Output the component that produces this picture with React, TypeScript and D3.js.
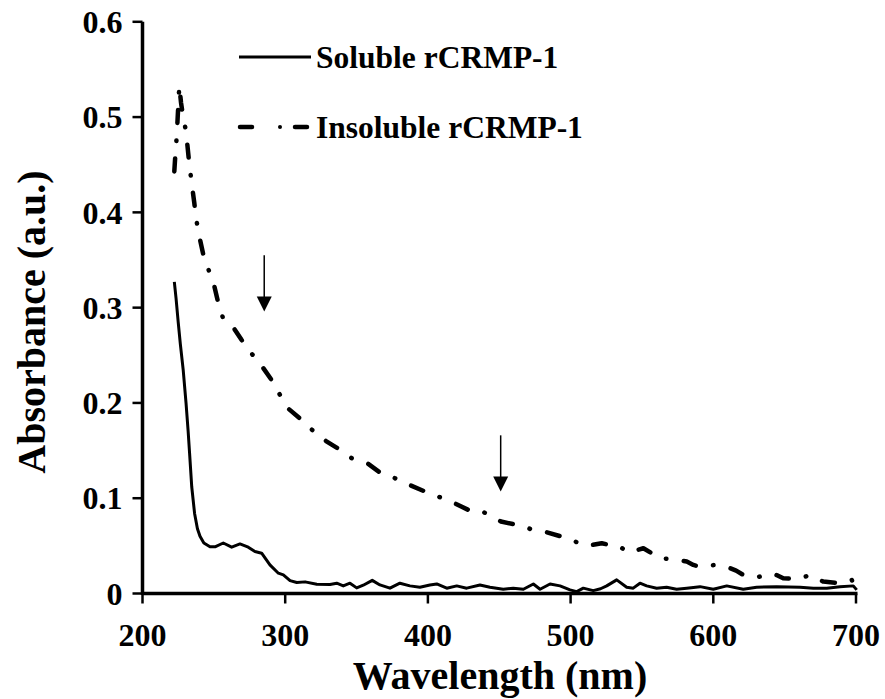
import React from "react";
import * as d3 from "d3";

const solubleNm = [222.3,223.5,225,226.5,228.5,230.5,232,233,234.5,236.5,238.5,240.3,243,247.3,250.8,256.6,262.5,268.3,274.1,278.8,283.5,289.3,295.2,298.7,303.4,308.1,313.9,322.1,331.4,336.1,340.7,345.4,350.1,354.7,361,366.4,373.4,380.4,387.4,394.4,401.4,406.2,413.2,420.2,427.2,436.5,443.5,452.8,459.8,466.9,473.9,478.6,485.6,492.6,499.6,504.3,508.9,515.9,521,525.3,532.3,539.3,543.9,548.6,553.3,560.3,567.3,574.3,581.4,590.7,600,609.4,621,630.4,644.4,660.8,670.1,679.5,688.8,698.1,700.5];
const solubleAbs = [0.327,0.31,0.285,0.262,0.235,0.2,0.17,0.147,0.112,0.084,0.068,0.06,0.053,0.049,0.049,0.053,0.0486,0.052,0.0486,0.044,0.0423,0.03,0.0213,0.0195,0.0135,0.0115,0.0122,0.0097,0.0094,0.0108,0.008,0.0108,0.0059,0.0087,0.0138,0.009,0.0056,0.0108,0.008,0.0066,0.009,0.01,0.0056,0.008,0.0056,0.009,0.0066,0.0045,0.0056,0.0045,0.01,0.0045,0.01,0.008,0.0038,0.002,0.0056,0.003,0.005,0.008,0.0143,0.0066,0.0056,0.0108,0.008,0.0056,0.0066,0.0045,0.0056,0.0072,0.0045,0.008,0.0045,0.0066,0.0072,0.0066,0.0056,0.0056,0.0072,0.008,0.0038];

const insolubleNm = [222.3,223,224,225,225.8,227,228.5,230.5,232.5,234.5,236.3,237.5,239.8,242.4,246,250.1,253.1,256.2,262.9,269.5,275.8,283.5,290.5,295.7,302.2,311.6,318.6,328.6,338.4,346.6,358.2,366.4,372,376.9,387,398,408.5,419.7,430.7,436,441.2,451.2,462.2,467,472.7,483.2,493.8,498,503.1,511.7,521.8,527,532.3,541.1,551,556,561.5,571.5,581.4,586,590.7,601.2,611.7,616,621,630.8,640.9,645,649,659.6,667.8,672,677.1,688.3,697,700.5];
const insolubleAbs = [0.443,0.46,0.48,0.51,0.533,0.515,0.5,0.485,0.455,0.43,0.41,0.394,0.375,0.357,0.341,0.324,0.305,0.29,0.281,0.266,0.253,0.239,0.224,0.21,0.194,0.182,0.172,0.16,0.151,0.142,0.136,0.127,0.125,0.121,0.114,0.107,0.101,0.094,0.086,0.087,0.084,0.0755,0.072,0.071,0.067,0.0643,0.0597,0.0585,0.0545,0.05,0.0528,0.051,0.051,0.043,0.0475,0.043,0.037,0.036,0.0335,0.03,0.028,0.03,0.0266,0.024,0.0195,0.017,0.021,0.019,0.016,0.015,0.0195,0.016,0.0125,0.0108,0.0143,0.0038];

const xTicks = [200, 300, 400, 500, 600, 700];
const yTicks = [0, 0.1, 0.2, 0.3, 0.4, 0.5, 0.6];
const yTickLabels = ["0", "0.1", "0.2", "0.3", "0.4", "0.5", "0.6"];
const seriesNames = ["Soluble rCRMP-1", "Insoluble rCRMP-1"];
// arrows: [nm, top abs, tip abs]
const arrowNm = [285.3, 451];
const arrowTop = [0.355, 0.166];
const arrowTip = [0.296, 0.107];

const FONT = "Liberation Serif, Times New Roman, Times, serif";

export default function App() {
  const x = d3.scaleLinear().domain([200, 700]).range([142.5, 856]);
  const y = d3.scaleLinear().domain([0, 0.6]).range([593.5, 21.8]);
  const line = d3
    .line<[number, number]>()
    .x((d) => x(d[0]))
    .y((d) => y(d[1]));
  const sol: [number, number][] = solubleNm.map((n, i) => [n, solubleAbs[i]]);
  const ins: [number, number][] = insolubleNm.map((n, i) => [n, insolubleAbs[i]]);
  const dash = "13 17.5 0.5 17.5";
  const txt = { fontFamily: FONT, fontWeight: 700 } as React.CSSProperties;

  return (
    <svg
      width={885}
      height={699}
      style={{ position: "absolute", left: 0, top: 0, background: "#fff" }}
    >
      <rect width={885} height={699} fill="#fff" />
      {/* data */}
      <path d={line(ins) || ""} fill="none" stroke="#000" strokeWidth={4.5} strokeDasharray={dash} strokeLinecap="round" strokeLinejoin="round" />
      <path d={line(sol) || ""} fill="none" stroke="#000" strokeWidth={3} strokeLinejoin="round" />

      {/* axes */}
      <line x1={x(200)} x2={x(700) + 1.5} y1={y(0)} y2={y(0)} stroke="#000" strokeWidth={3.5} />
      <line x1={x(200)} x2={x(200)} y1={y(0) + 1.5} y2={y(0.6)} stroke="#000" strokeWidth={3.5} />
      {xTicks.map((t) => (
        <g key={"x" + t}>
          <line x1={x(t)} x2={x(t)} y1={y(0)} y2={y(0) + 10} stroke="#000" strokeWidth={2.5} />
          <text x={x(t)} y={y(0) + 52} textAnchor="middle" fontSize={32} style={txt}>
            {t}
          </text>
        </g>
      ))}
      {yTicks.map((t, i) => (
        <g key={"y" + t}>
          <line x1={x(200) - 10} x2={x(200)} y1={y(t)} y2={y(t)} stroke="#000" strokeWidth={2.5} />
          <text x={x(200) - 20} y={y(t)} dy="0.35em" textAnchor="end" fontSize={32} style={txt}>
            {yTickLabels[i]}
          </text>
        </g>
      ))}
      <text x={500} y={689} textAnchor="middle" fontSize={40} style={txt}>
        Wavelength (nm)
      </text>
      <text transform={`translate(45,322) rotate(-90)`} textAnchor="middle" fontSize={40} style={txt}>
        Absorbance (a.u.)
      </text>

      {/* arrows */}
      {arrowNm.map((n, i) => {
        const ax = x(n);
        const yt = y(arrowTop[i]);
        const yp = y(arrowTip[i]);
        return (
          <g key={"a" + i}>
            <line x1={ax} x2={ax} y1={yt} y2={yp - 12} stroke="#000" strokeWidth={1.5} />
            <path d={`M${ax - 7.5},${yp - 15} L${ax + 7.5},${yp - 15} L${ax},${yp} Z`} fill="#000" />
          </g>
        );
      })}

      {/* legend */}
      <line x1={239} x2={311} y1={57} y2={57} stroke="#000" strokeWidth={3} />
      <text x={316} y={57} dy="0.35em" fontSize={31.5} style={txt}>
        {seriesNames[0]}
      </text>
      <line x1={240} x2={252} y1={127} y2={127} stroke="#000" strokeWidth={4.5} strokeLinecap="round" />
      <circle cx={280} cy={127} r={2} fill="#000" />
      <line x1={295} x2={307} y1={127} y2={127} stroke="#000" strokeWidth={4.5} strokeLinecap="round" />
      <text x={316} y={127} dy="0.35em" fontSize={31.5} style={txt}>
        {seriesNames[1]}
      </text>
    </svg>
  );
}
